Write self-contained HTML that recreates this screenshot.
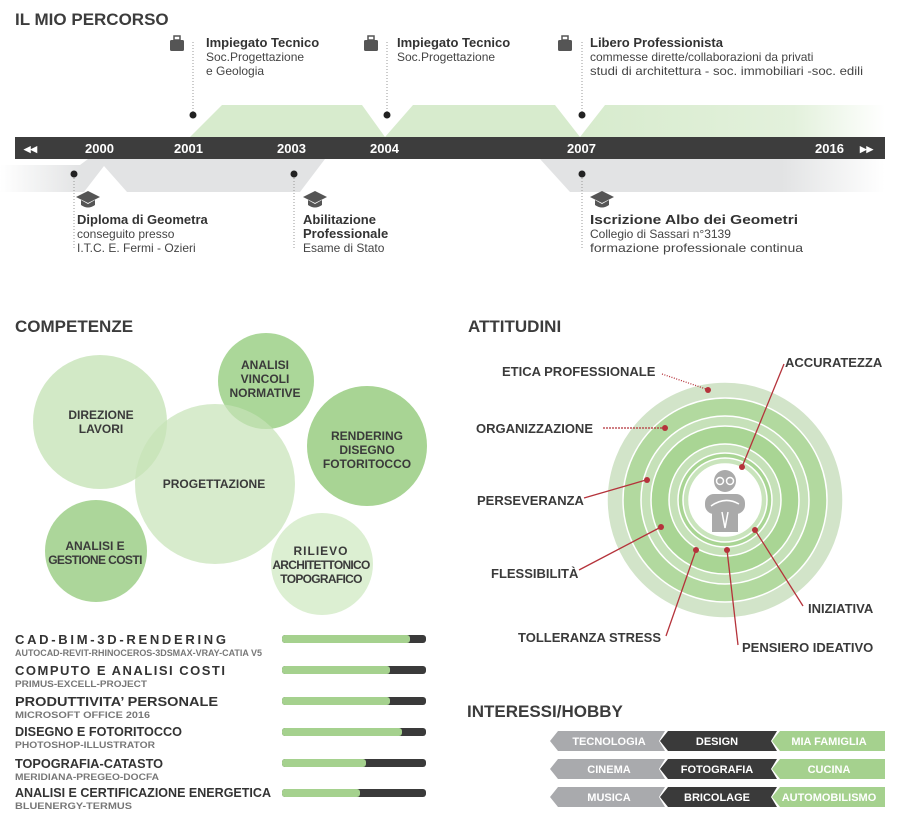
<!DOCTYPE html>
<html><head><meta charset="utf-8"><style>
html,body{margin:0;padding:0;background:#fff;}
svg{display:block;font-family:"Liberation Sans Narrow","Liberation Sans",sans-serif;}
.h{font-weight:bold;fill:#3c3c3c;font-size:17px;}
.t{font-weight:bold;fill:#333;font-size:13px;}
.s{fill:#444;font-size:12px;}
.y{fill:#fff;font-weight:bold;font-size:13px;}
.b{font-weight:bold;fill:#3a3a3a;font-size:12px;text-anchor:middle;}
.a{font-weight:bold;fill:#3a3a3a;font-size:13px;}
.k{font-weight:bold;fill:#333;font-size:13px;}
.ks{font-weight:bold;fill:#777;font-size:9px;}
.hb{font-weight:bold;fill:#fff;font-size:11px;text-anchor:middle;}
</style></head><body>
<svg width="900" height="825" viewBox="0 0 900 825" xmlns="http://www.w3.org/2000/svg">
<defs>
<linearGradient id="gl" x1="0" x2="1"><stop offset="0" stop-color="#e2e3e4" stop-opacity="0"/><stop offset="0.25" stop-color="#e2e3e4"/><stop offset="1" stop-color="#e2e3e4"/></linearGradient>
<linearGradient id="gr" x1="0" x2="1"><stop offset="0" stop-color="#e2e3e4"/><stop offset="0.7" stop-color="#e2e3e4"/><stop offset="1" stop-color="#e2e3e4" stop-opacity="0"/></linearGradient>
<linearGradient id="grg" x1="0" x2="1"><stop offset="0" stop-color="#d7ebcd"/><stop offset="0.7" stop-color="#e3f1dc"/><stop offset="1" stop-color="#e3f1dc" stop-opacity="0"/></linearGradient>
</defs>
<text x="15" y="25" class="h">IL MIO PERCORSO</text>
<polygon points="190,137 222,105 362,105 385,137" fill="#d7ebcd"/>
<polygon points="385,137 413,105 555,105 580,137" fill="#d7ebcd"/>
<polygon points="580,137 605,105 885,105 885,137" fill="url(#grg)"/>
<polygon points="0,165 80,165 88,159 325,159 300,192 127,192 104,166 84,192 0,192" fill="url(#gl)"/>
<polygon points="540,159 885,159 885,192 570,192" fill="url(#gr)"/>
<rect x="15" y="137" width="870" height="22" fill="#3d3d3d"/>
<text x="24" y="153" class="y" font-size="10">◂◂</text>
<text x="85" y="153" class="y">2000</text>
<text x="174" y="153" class="y">2001</text>
<text x="277" y="153" class="y">2003</text>
<text x="370" y="153" class="y">2004</text>
<text x="567" y="153" class="y">2007</text>
<text x="815" y="153" class="y">2016</text>
<text x="860" y="153" class="y" font-size="10">▸▸</text>
<g stroke="#999" stroke-dasharray="1,2" stroke-width="1">
<line x1="193" y1="42" x2="193" y2="113"/><line x1="387" y1="42" x2="387" y2="113"/><line x1="582" y1="42" x2="582" y2="113"/>
<line x1="74" y1="175" x2="74" y2="250"/><line x1="294" y1="175" x2="294" y2="250"/><line x1="582" y1="175" x2="582" y2="250"/>
</g>
<g fill="#222"><circle cx="193" cy="115" r="3.5"/><circle cx="387" cy="115" r="3.5"/><circle cx="582" cy="115" r="3.5"/>
<circle cx="74" cy="174" r="3.5"/><circle cx="294" cy="174" r="3.5"/><circle cx="582" cy="174" r="3.5"/></g>
<g fill="#555">
<rect x="170" y="40" width="14" height="11" rx="1.5"/><rect x="174" y="36" width="6" height="4" fill="none" stroke="#555" stroke-width="1.5"/>
<rect x="364" y="40" width="14" height="11" rx="1.5"/><rect x="368" y="36" width="6" height="4" fill="none" stroke="#555" stroke-width="1.5"/>
<rect x="558" y="40" width="14" height="11" rx="1.5"/><rect x="562" y="36" width="6" height="4" fill="none" stroke="#555" stroke-width="1.5"/>
</g>
<g fill="#555">
<polygon points="76,197 88,191 100,197 88,203"/><path d="M81,200 v5 q7,5 14,0 v-5 l-7,4z"/>
<polygon points="303,197 315,191 327,197 315,203"/><path d="M308,200 v5 q7,5 14,0 v-5 l-7,4z"/>
<polygon points="590,197 602,191 614,197 602,203"/><path d="M595,200 v5 q7,5 14,0 v-5 l-7,4z"/>
</g>
<text x="206" y="47" class="t">Impiegato Tecnico</text>
<text x="206" y="61" class="s">Soc.Progettazione</text><text x="206" y="75" class="s">e Geologia</text>
<text x="397" y="47" class="t">Impiegato Tecnico</text>
<text x="397" y="61" class="s">Soc.Progettazione</text>
<text x="590" y="47" class="t">Libero Professionista</text>
<text x="590" y="61" class="s">commesse dirette/collaborazioni da privati</text>
<text x="590" y="75" class="s" textLength="273" lengthAdjust="spacingAndGlyphs">studi di architettura - soc. immobiliari -soc. edili</text>
<text x="77" y="224" class="t">Diploma di Geometra</text>
<text x="77" y="238" class="s">conseguito presso</text><text x="77" y="252" class="s">I.T.C. E. Fermi - Ozieri</text>
<text x="303" y="224" class="t">Abilitazione</text><text x="303" y="238" class="t">Professionale</text>
<text x="303" y="252" class="s">Esame di Stato</text>
<text x="590" y="224" class="t" textLength="208" lengthAdjust="spacingAndGlyphs">Iscrizione Albo dei Geometri</text>
<text x="590" y="238" class="s">Collegio di Sassari n°3139</text><text x="590" y="252" class="s" textLength="213" lengthAdjust="spacingAndGlyphs">formazione professionale continua</text>

<text x="15" y="332" class="h">COMPETENZE</text>
<g>
<circle cx="100" cy="422" r="67" fill="#bfdfae" fill-opacity="0.7"/>
<circle cx="266" cy="381" r="48" fill="#8fc977" fill-opacity="0.75"/>
<circle cx="215" cy="484" r="80" fill="#c6e3b7" fill-opacity="0.7"/>
<circle cx="367" cy="446" r="60" fill="#a8d494"/>
<circle cx="96" cy="551" r="51" fill="#acd69a"/>
<circle cx="322" cy="564" r="51" fill="#dcefd2"/>
</g>
<text x="101" y="419" class="b">DIREZIONE</text><text x="101" y="433" class="b">LAVORI</text>
<text x="265" y="369" class="b">ANALISI</text><text x="265" y="383" class="b">VINCOLI</text><text x="265" y="397" class="b">NORMATIVE</text>
<text x="214" y="488" class="b">PROGETTAZIONE</text>
<text x="367" y="440" class="b">RENDERING</text><text x="367" y="454" class="b">DISEGNO</text><text x="367" y="468" class="b">FOTORITOCCO</text>
<text x="95" y="550" class="b">ANALISI E</text><text x="95" y="564" class="b" letter-spacing="-0.6">GESTIONE COSTI</text>
<text x="321" y="555" class="b" letter-spacing="1">RILIEVO</text><text x="321" y="569" class="b" font-size="11" letter-spacing="-0.7">ARCHITETTONICO</text><text x="321" y="583" class="b" font-size="11" letter-spacing="-0.7">TOPOGRAFICO</text>

<text x="15" y="644" class="k" textLength="211" lengthAdjust="spacing">CAD-BIM-3D-RENDERING</text><text x="15" y="656" class="ks" textLength="247" lengthAdjust="spacingAndGlyphs">AUTOCAD-REVIT-RHINOCEROS-3DSMAX-VRAY-CATIA V5</text>
<text x="15" y="675" class="k" textLength="210" lengthAdjust="spacing">COMPUTO E ANALISI COSTI</text><text x="15" y="687" class="ks" textLength="132" lengthAdjust="spacingAndGlyphs">PRIMUS-EXCELL-PROJECT</text>
<text x="15" y="706" class="k" textLength="203" lengthAdjust="spacingAndGlyphs">PRODUTTIVITA’ PERSONALE</text><text x="15" y="718" class="ks" textLength="135" lengthAdjust="spacingAndGlyphs">MICROSOFT OFFICE 2016</text>
<text x="15" y="736" class="k" textLength="167" lengthAdjust="spacingAndGlyphs">DISEGNO E FOTORITOCCO</text><text x="15" y="748" class="ks" textLength="140" lengthAdjust="spacingAndGlyphs">PHOTOSHOP-ILLUSTRATOR</text>
<text x="15" y="768" class="k" textLength="148" lengthAdjust="spacingAndGlyphs">TOPOGRAFIA-CATASTO</text><text x="15" y="780" class="ks" textLength="144" lengthAdjust="spacingAndGlyphs">MERIDIANA-PREGEO-DOCFA</text>
<text x="15" y="797" class="k" textLength="256" lengthAdjust="spacingAndGlyphs">ANALISI E CERTIFICAZIONE ENERGETICA</text><text x="15" y="809" class="ks" textLength="117" lengthAdjust="spacingAndGlyphs">BLUENERGY-TERMUS</text>
<g>
<rect x="282" y="635" width="144" height="8" rx="3" fill="#3a3a3a"/><rect x="282" y="635" width="128" height="8" rx="3" fill="#a5d18e"/>
<rect x="282" y="666" width="144" height="8" rx="3" fill="#3a3a3a"/><rect x="282" y="666" width="108" height="8" rx="3" fill="#a5d18e"/>
<rect x="282" y="697" width="144" height="8" rx="3" fill="#3a3a3a"/><rect x="282" y="697" width="108" height="8" rx="3" fill="#a5d18e"/>
<rect x="282" y="728" width="144" height="8" rx="3" fill="#3a3a3a"/><rect x="282" y="728" width="120" height="8" rx="3" fill="#a5d18e"/>
<rect x="282" y="759" width="144" height="8" rx="3" fill="#3a3a3a"/><rect x="282" y="759" width="84" height="8" rx="3" fill="#a5d18e"/>
<rect x="282" y="789" width="144" height="8" rx="3" fill="#3a3a3a"/><rect x="282" y="789" width="78" height="8" rx="3" fill="#a5d18e"/>
</g>

<text x="468" y="332" class="h">ATTITUDINI</text>
<g stroke="#fff" stroke-width="1.5">
<circle cx="725" cy="500" r="118" fill="#d2e4c9"/>
<circle cx="725" cy="500" r="102" fill="#b2d99f"/>
<circle cx="725" cy="500" r="84" fill="#c6e1b9"/>
<circle cx="725" cy="500" r="74" fill="#a9d594"/>
<circle cx="725" cy="500" r="56" fill="#c6e1b9"/>
<circle cx="725" cy="500" r="47" fill="#a9d594"/>
<circle cx="725" cy="500" r="42" fill="#c9e4bc"/>
<circle cx="725" cy="500" r="36" fill="#fff"/>
</g>
<g fill="#aaa">
<circle cx="725" cy="481" r="11"/>
<rect x="705" y="494" width="40" height="20" rx="9"/>
<rect x="712" y="510" width="26" height="22"/>
</g>
<g fill="none" stroke="#fff" stroke-width="1.5"><circle cx="720" cy="481" r="3.5"/><circle cx="730" cy="481" r="3.5"/><path d="M711,506 q14,-10 28,-2"/><path d="M722,512 l3,16 l3,-16"/></g>
<g stroke="#b5333b" stroke-width="1.3" fill="none">
<line x1="662" y1="374" x2="706" y2="389" stroke-dasharray="1,1.5"/>
<line x1="603" y1="428" x2="664" y2="428" stroke-dasharray="2,1"/>
<line x1="784" y1="364" x2="742" y2="467"/>
<line x1="584" y1="498" x2="646" y2="480"/>
<line x1="579" y1="570" x2="661" y2="527"/>
<line x1="666" y1="636" x2="696" y2="550"/>
<line x1="738" y1="645" x2="727" y2="550"/>
<line x1="803" y1="606" x2="755" y2="530"/>
</g>
<g fill="#b5333b">
<circle cx="708" cy="390" r="3"/><circle cx="665" cy="428" r="3"/><circle cx="742" cy="467" r="3"/><circle cx="647" cy="480" r="3"/>
<circle cx="661" cy="527" r="3"/><circle cx="696" cy="550" r="3"/><circle cx="727" cy="550" r="3"/><circle cx="755" cy="530" r="3"/>
</g>
<text x="502" y="376" class="a">ETICA PROFESSIONALE</text>
<text x="785" y="367" class="a">ACCURATEZZA</text>
<text x="476" y="433" class="a">ORGANIZZAZIONE</text>
<text x="477" y="505" class="a">PERSEVERANZA</text>
<text x="491" y="578" class="a">FLESSIBILITÀ</text>
<text x="518" y="642" class="a">TOLLERANZA STRESS</text>
<text x="742" y="652" class="a">PENSIERO IDEATIVO</text>
<text x="808" y="613" class="a">INIZIATIVA</text>

<text x="467" y="717" class="h">INTERESSI/HOBBY</text>
<g>
<polygon points="558,731 665,731 659,741 665,751 558,751 550,741" fill="#a9aaad"/>
<polygon points="668,731 777,731 771,741 777,751 668,751 660,741" fill="#3a3a3a"/>
<polygon points="780,731 885,731 885,751 780,751 772,741" fill="#a5d18e"/>
<polygon points="558,759 665,759 659,769 665,779 558,779 550,769" fill="#a9aaad"/>
<polygon points="668,759 777,759 771,769 777,779 668,779 660,769" fill="#3a3a3a"/>
<polygon points="780,759 885,759 885,779 780,779 772,769" fill="#a5d18e"/>
<polygon points="558,787 665,787 659,797 665,807 558,807 550,797" fill="#a9aaad"/>
<polygon points="668,787 777,787 771,797 777,807 668,807 660,797" fill="#3a3a3a"/>
<polygon points="780,787 885,787 885,807 780,807 772,797" fill="#a5d18e"/>
</g>
<text x="609" y="745" class="hb">TECNOLOGIA</text><text x="717" y="745" class="hb">DESIGN</text><text x="829" y="745" class="hb">MIA FAMIGLIA</text>
<text x="609" y="773" class="hb">CINEMA</text><text x="717" y="773" class="hb">FOTOGRAFIA</text><text x="829" y="773" class="hb">CUCINA</text>
<text x="609" y="801" class="hb">MUSICA</text><text x="717" y="801" class="hb">BRICOLAGE</text><text x="829" y="801" class="hb">AUTOMOBILISMO</text>
</svg>
</body></html>
